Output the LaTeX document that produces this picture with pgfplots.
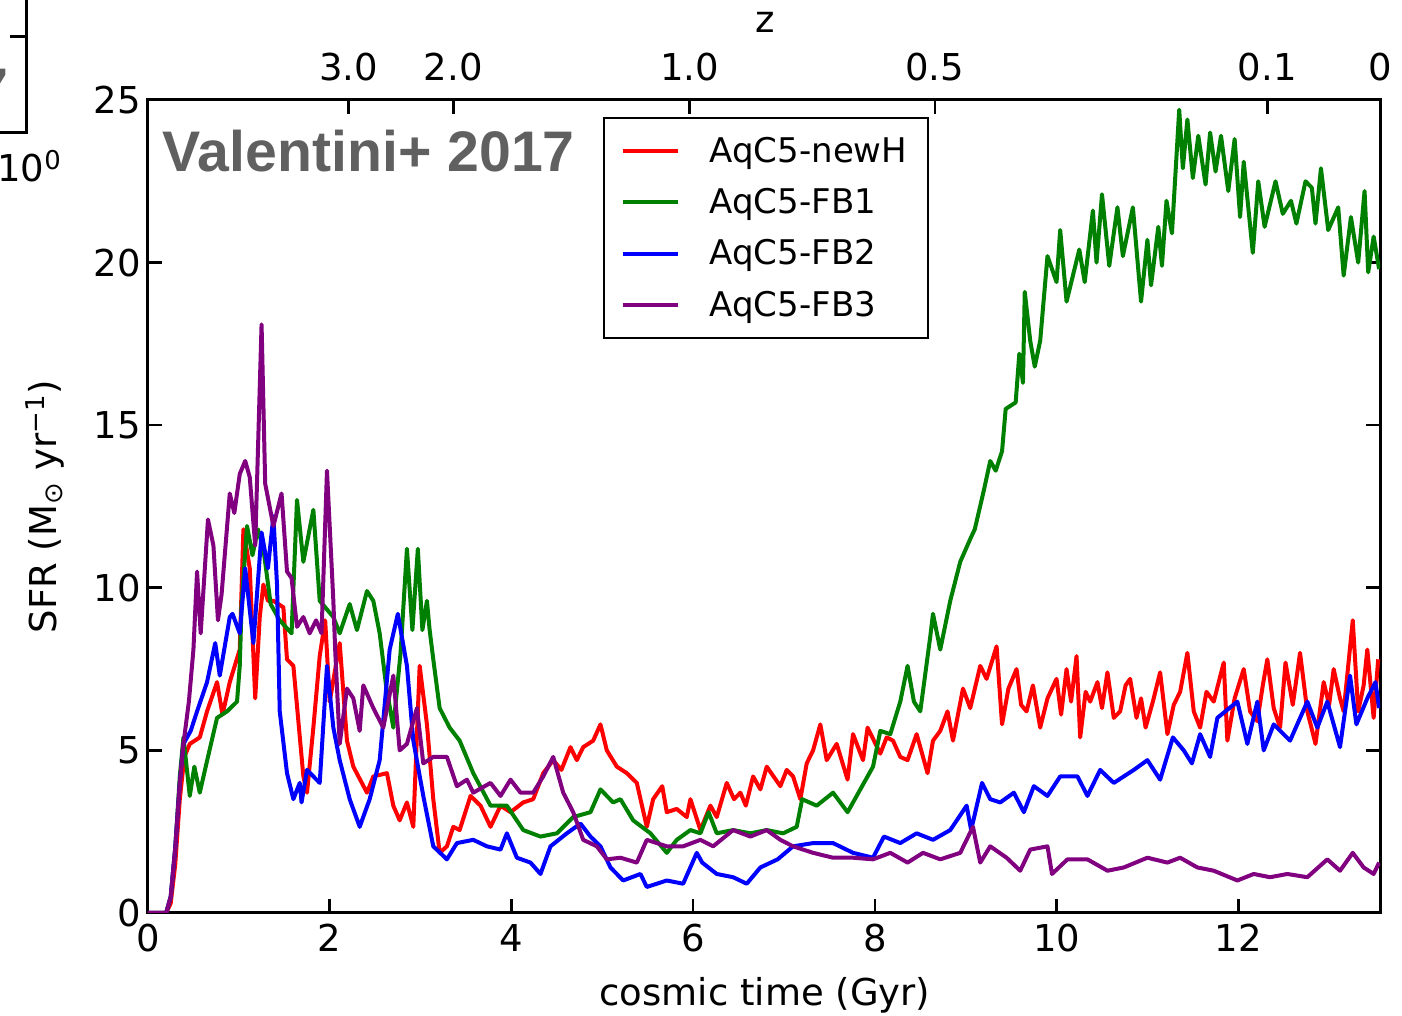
\documentclass[border=0pt]{standalone}
\usepackage{pgfplots}
\pgfplotsset{compat=1.18}
\usepackage{fontspec}
\setmainfont{DejaVu Sans}
\newfontfamily\titlefont{Liberation Sans}
\definecolor{mplgreen}{RGB}{0,128,0}
\definecolor{mplpurple}{RGB}{128,0,128}
\definecolor{titlegray}{RGB}{96,96,96}
\begin{document}
\begin{tikzpicture}
\useasboundingbox (-74pt,-51.5pt) rectangle (627pt,456.5pt);
% fragment of the neighbouring panel
\draw[line width=1.5pt] (-60.5pt,460pt) -- (-60.5pt,390pt) -- (-76pt,390pt);
\draw[line width=1.5pt] (-60.5pt,438pt) -- (-69pt,438pt);
\node[anchor=base east, inner sep=0pt, text=titlegray, font=\titlefont\bfseries\fontsize{28.6}{30}\selectfont] at (-69.5pt,402pt) {7};
\node[anchor=base west, inner sep=0pt, font=\fontsize{18.5}{22}\selectfont] at (-75.5pt,365.5pt) {10\textsuperscript{0}};
\begin{axis}[
  at={(0,0)}, anchor=south west,
  scale only axis, width=616pt, height=406.5pt,
  xmin=0, xmax=13.56, ymin=0, ymax=25,
  xtick={0,2,4,6,8,10,12}, ytick={0,5,10,15,20,25},
  xtick pos=lower, ytick pos=both,
  tick align=inside, major tick length=7pt,
  tick style={line width=1.3pt, black},
  axis line style={line width=1.5pt},
  /pgf/number format/assume math mode=true,
  tick label style={font=\fontsize{18.5}{22}\selectfont},
  xticklabel style={yshift=-2pt},
  label style={font=\fontsize{18.5}{22}\selectfont},
  xlabel={cosmic time (Gyr)},
  ylabel={SFR (M\textsubscript{⊙} yr\textsuperscript{−1})},
  xlabel style={at={(axis description cs:0.5008,-0.101)}, anchor=center},
  ylabel style={at={(axis description cs:-0.0836,0.5)}, anchor=center},
  legend style={at={(0.369,0.979)}, anchor=north west, draw=black, line width=1pt,
    font=\fontsize{17}{20}\selectfont, inner xsep=8.5pt, inner ysep=7.5pt, row sep=7.5pt},
  legend cell align=left,
  legend image code/.code={\draw[#1, line width=2pt] (0pt,0pt) -- (27.5pt,0pt);},
  /tikz/every odd column/.append style={column sep=13pt},
  every axis plot/.append style={line width=2pt, line join=round},
]
\addplot[red] coordinates {
(0,0)(0.2,0)(0.25,0.3)(0.3,1.5)(0.35,3.5)(0.4,4.8)(0.46,5.2)(0.57,5.4)(0.65,6.2)(0.76,7.1)(0.82,6.1)(0.90,7.1)(1.01,8.1)(1.05,11.8)(1.12,10.6)(1.18,6.6)(1.23,9.1)(1.27,10.1)(1.32,9.6)(1.38,9.6)(1.49,9.4)(1.53,7.8)(1.60,7.6)(1.71,4.2)(1.75,3.7)(1.82,5.7)(1.89,7.9)(1.95,9.0)(2.0,6.5)(2.11,8.3)(2.19,5.3)(2.26,4.5)(2.41,3.7)(2.48,4.2)(2.63,4.3)(2.70,3.3)(2.77,2.85)(2.85,3.4)(2.92,2.65)(2.99,7.6)(3.07,5.8)(3.14,3.5)(3.21,1.85)(3.29,2.05)(3.36,2.65)(3.43,2.55)(3.55,3.6)(3.66,3.3)(3.77,2.65)(3.88,3.3)(3.99,3.1)(4.13,3.4)(4.24,3.5)(4.35,4.3)(4.46,4.7)(4.55,4.4)(4.65,5.1)(4.72,4.7)(4.79,5.1)(4.90,5.3)(4.98,5.8)(5.05,5.0)(5.16,4.5)(5.27,4.3)(5.38,4.0)(5.49,2.65)(5.56,3.5)(5.66,3.9)(5.71,3.1)(5.82,3.2)(5.93,2.95)(5.97,3.5)(6.08,2.55)(6.19,3.3)(6.26,2.95)(6.37,4.0)(6.45,3.5)(6.52,3.7)(6.58,3.3)(6.66,4.2)(6.74,3.8)(6.81,4.5)(6.96,3.9)(7.03,4.4)(7.10,4.2)(7.18,3.5)(7.25,4.6)(7.32,5.0)(7.40,5.8)(7.47,4.7)(7.58,5.2)(7.70,4.1)(7.76,5.5)(7.87,4.7)(7.92,5.7)(8.06,4.9)(8.13,5.4)(8.20,5.3)(8.28,4.8)(8.36,4.7)(8.46,5.5)(8.58,4.3)(8.64,5.3)(8.72,5.6)(8.80,6.2)(8.86,5.3)(8.97,6.9)(9.05,6.3)(9.16,7.6)(9.23,7.2)(9.34,8.2)(9.40,5.8)(9.47,6.9)(9.56,7.5)(9.61,6.4)(9.67,6.2)(9.74,7.0)(9.82,5.7)(9.90,6.6)(10.0,7.2)(10.05,6.1)(10.11,7.5)(10.16,6.5)(10.22,7.9)(10.26,5.4)(10.32,6.8)(10.37,6.5)(10.45,7.1)(10.50,6.3)(10.56,7.4)(10.63,6.0)(10.70,6.2)(10.76,7.0)(10.81,7.2)(10.88,6.0)(10.93,6.6)(10.98,5.7)(11.06,6.5)(11.14,7.4)(11.22,5.5)(11.29,6.4)(11.36,6.8)(11.44,8.0)(11.51,6.2)(11.58,5.7)(11.65,6.8)(11.73,6.5)(11.84,7.7)(11.88,5.3)(11.96,6.6)(12.06,7.5)(12.13,6.2)(12.21,5.9)(12.27,7.0)(12.32,7.8)(12.39,6.3)(12.46,5.7)(12.52,7.7)(12.60,6.4)(12.68,8.0)(12.76,6.2)(12.85,5.2)(12.94,7.1)(13.0,6.4)(13.05,7.5)(13.12,6.6)(13.16,6.2)(13.26,9.0)(13.32,6.2)(13.38,7.0)(13.42,8.1)(13.49,6.0)(13.54,7.8)
};
\addlegendentry{AqC5-newH}
\addplot[mplgreen] coordinates {
(0,0)(0.2,0)(0.25,0.5)(0.3,2.0)(0.35,4.2)(0.39,5.4)(0.46,3.6)(0.51,4.5)(0.57,3.7)(0.66,4.8)(0.76,6.0)(0.87,6.2)(0.98,6.5)(1.01,7.6)(1.03,9.5)(1.09,11.9)(1.15,11.0)(1.21,11.8)(1.27,11.2)(1.35,9.5)(1.45,9.0)(1.58,8.6)(1.64,12.7)(1.71,10.8)(1.82,12.4)(1.89,9.6)(2.04,9.1)(2.11,8.6)(2.22,9.5)(2.30,8.7)(2.41,9.9)(2.48,9.6)(2.55,8.6)(2.62,7.0)(2.70,5.7)(2.78,8.0)(2.85,11.2)(2.91,8.7)(2.97,11.2)(3.02,8.7)(3.07,9.6)(3.10,8.7)(3.14,7.8)(3.21,6.3)(3.32,5.7)(3.43,5.3)(3.58,4.3)(3.77,3.3)(3.95,3.3)(4.13,2.55)(4.32,2.35)(4.50,2.45)(4.68,2.95)(4.87,3.1)(4.98,3.8)(5.12,3.4)(5.20,3.5)(5.34,2.85)(5.53,2.45)(5.71,1.85)(5.82,2.25)(5.97,2.55)(6.08,2.45)(6.17,3.1)(6.26,2.45)(6.44,2.55)(6.63,2.45)(6.81,2.55)(6.99,2.45)(7.14,2.65)(7.20,3.5)(7.36,3.3)(7.54,3.7)(7.70,3.1)(7.84,3.8)(7.98,4.5)(8.06,5.6)(8.17,5.5)(8.28,6.5)(8.36,7.6)(8.43,6.5)(8.50,6.2)(8.61,8.5)(8.64,9.2)(8.72,8.1)(8.83,9.6)(8.94,10.8)(9.05,11.5)(9.10,11.8)(9.20,13.0)(9.27,13.9)(9.33,13.6)(9.40,14.2)(9.44,15.5)(9.55,15.7)(9.59,17.2)(9.63,16.3)(9.65,19.1)(9.71,17.6)(9.76,16.8)(9.82,17.6)(9.90,20.2)(10.0,19.4)(10.04,21.0)(10.11,18.8)(10.25,20.4)(10.31,19.4)(10.40,21.6)(10.44,20.0)(10.50,22.1)(10.58,19.9)(10.67,21.7)(10.73,20.2)(10.84,21.7)(10.93,18.8)(11.0,20.7)(11.04,19.3)(11.12,21.1)(11.16,19.9)(11.21,21.9)(11.27,20.9)(11.35,24.7)(11.39,22.9)(11.44,24.4)(11.50,22.6)(11.56,23.9)(11.64,22.4)(11.69,24.0)(11.75,22.8)(11.81,23.9)(11.89,22.2)(11.96,23.8)(12.02,21.4)(12.06,23.1)(12.16,20.3)(12.22,22.5)(12.29,21.1)(12.41,22.5)(12.49,21.5)(12.58,21.9)(12.64,21.2)(12.74,22.5)(12.81,22.3)(12.85,21.2)(12.91,22.9)(12.99,21.0)(13.10,21.7)(13.16,19.6)(13.24,21.4)(13.32,20.0)(13.39,22.2)(13.43,19.7)(13.49,20.8)(13.55,19.8)
};
\addlegendentry{AqC5-FB1}
\addplot[blue] coordinates {
(0,0)(0.2,0)(0.25,0.5)(0.3,2.0)(0.35,4.0)(0.39,5.2)(0.47,5.6)(0.54,6.2)(0.65,7.1)(0.74,8.3)(0.79,7.3)(0.90,9.1)(0.93,9.2)(1.01,8.6)(1.07,10.6)(1.16,8.3)(1.25,11.7)(1.32,10.6)(1.38,12.2)(1.42,10.1)(1.45,6.2)(1.53,4.3)(1.60,3.5)(1.67,4.0)(1.69,3.4)(1.75,4.4)(1.89,4.0)(1.97,7.6)(2.04,5.7)(2.11,4.7)(2.22,3.5)(2.33,2.65)(2.44,3.5)(2.55,4.7)(2.66,8.1)(2.75,9.2)(2.85,7.6)(2.92,5.3)(3.03,3.6)(3.14,2.05)(3.29,1.65)(3.40,2.15)(3.58,2.25)(3.73,2.05)(3.88,1.95)(3.95,2.45)(4.06,1.7)(4.21,1.55)(4.32,1.2)(4.43,2.05)(4.61,2.45)(4.76,2.75)(4.87,2.35)(4.98,2.05)(5.09,1.4)(5.23,1.0)(5.42,1.2)(5.49,0.8)(5.71,1.0)(5.89,0.9)(6.04,1.85)(6.10,1.55)(6.26,1.2)(6.44,1.1)(6.59,0.9)(6.74,1.4)(6.93,1.65)(7.10,2.05)(7.32,2.15)(7.54,2.15)(7.76,1.85)(7.98,1.7)(8.10,2.35)(8.28,2.15)(8.46,2.45)(8.64,2.25)(8.83,2.55)(9.01,3.3)(9.06,2.55)(9.18,4.0)(9.27,3.5)(9.38,3.4)(9.53,3.7)(9.64,3.1)(9.75,3.9)(9.90,3.6)(10.04,4.2)(10.23,4.2)(10.34,3.6)(10.48,4.4)(10.63,4.0)(10.85,4.4)(11.0,4.7)(11.14,4.1)(11.28,5.4)(11.40,5.0)(11.49,4.6)(11.58,5.5)(11.69,4.8)(11.77,6.0)(11.99,6.5)(12.10,5.2)(12.21,6.5)(12.28,5.0)(12.39,5.8)(12.57,5.3)(12.76,6.5)(12.87,5.7)(12.98,6.5)(13.12,5.1)(13.23,7.3)(13.30,5.8)(13.42,6.6)(13.51,7.1)(13.55,6.3)
};
\addlegendentry{AqC5-FB2}
\addplot[mplpurple] coordinates {
(0,0)(0.2,0)(0.25,0.5)(0.3,2.0)(0.35,4.0)(0.39,5.2)(0.45,6.5)(0.50,8.1)(0.54,10.5)(0.58,8.6)(0.66,12.1)(0.72,11.3)(0.77,9.0)(0.81,9.8)(0.90,12.9)(0.95,12.3)(1.01,13.5)(1.07,13.9)(1.12,13.4)(1.18,11.3)(1.25,18.1)(1.29,13.2)(1.38,11.9)(1.47,12.9)(1.53,10.5)(1.58,10.3)(1.64,8.8)(1.71,9.1)(1.78,8.6)(1.85,9.0)(1.91,8.6)(1.97,13.6)(2.04,9.6)(2.06,8.1)(2.11,5.2)(2.19,6.9)(2.26,6.6)(2.33,5.6)(2.37,7.0)(2.48,6.3)(2.59,5.7)(2.70,7.3)(2.77,5.0)(2.85,5.2)(2.96,6.3)(3.03,4.6)(3.14,4.8)(3.29,4.8)(3.40,3.9)(3.51,4.1)(3.58,3.7)(3.77,4.0)(3.88,3.6)(3.99,4.1)(4.10,3.7)(4.24,3.7)(4.35,4.2)(4.46,4.8)(4.57,3.7)(4.68,3.1)(4.79,2.25)(4.94,2.05)(5.05,1.65)(5.20,1.7)(5.38,1.55)(5.49,2.25)(5.71,2.05)(5.89,2.05)(6.08,2.25)(6.22,2.05)(6.44,2.55)(6.63,2.35)(6.81,2.55)(6.96,2.25)(7.10,2.05)(7.32,1.85)(7.54,1.7)(7.76,1.7)(7.98,1.65)(8.17,1.85)(8.36,1.55)(8.53,1.85)(8.72,1.65)(8.94,1.85)(9.08,2.65)(9.16,1.55)(9.27,2.05)(9.45,1.7)(9.60,1.3)(9.71,1.95)(9.90,2.05)(9.95,1.2)(10.12,1.65)(10.34,1.65)(10.56,1.3)(10.74,1.4)(11.0,1.7)(11.22,1.55)(11.36,1.7)(11.55,1.4)(11.73,1.3)(11.99,1.0)(12.17,1.2)(12.35,1.1)(12.54,1.2)(12.76,1.1)(12.98,1.65)(13.12,1.3)(13.26,1.85)(13.38,1.4)(13.49,1.2)(13.55,1.55)
};
\addlegendentry{AqC5-FB3}
\node[anchor=base west, inner sep=0pt, text=titlegray, font=\titlefont\bfseries\fontsize{28.6}{30}\selectfont] at (axis cs:0.16,22.79) {Valentini+ 2017};
\end{axis}
\begin{axis}[
  at={(0,0)}, anchor=south west,
  scale only axis, width=616pt, height=406.5pt,
  xmin=0, xmax=13.56, ymin=0, ymax=25,
  hide y axis, axis x line*=top,
  axis line style={line width=1.5pt, -},
  xtick={2.21,3.36,5.96,8.66,12.32,13.56},
  xticklabels={3.0,2.0,1.0,0.5,0.1,0},
  tick align=inside, major tick length=7pt,
  tick style={line width=1.3pt, black},
  tick label style={font=\fontsize{18.5}{22}\selectfont},
  xticklabel style={yshift=6pt},
  xlabel={z},
  label style={font=\fontsize{18.5}{22}\selectfont},
  xlabel style={at={(axis description cs:0.5008,1.096)}, anchor=center},
]
\addplot[draw=none] coordinates {(0,0)};
\end{axis}
\end{tikzpicture}
\end{document}
